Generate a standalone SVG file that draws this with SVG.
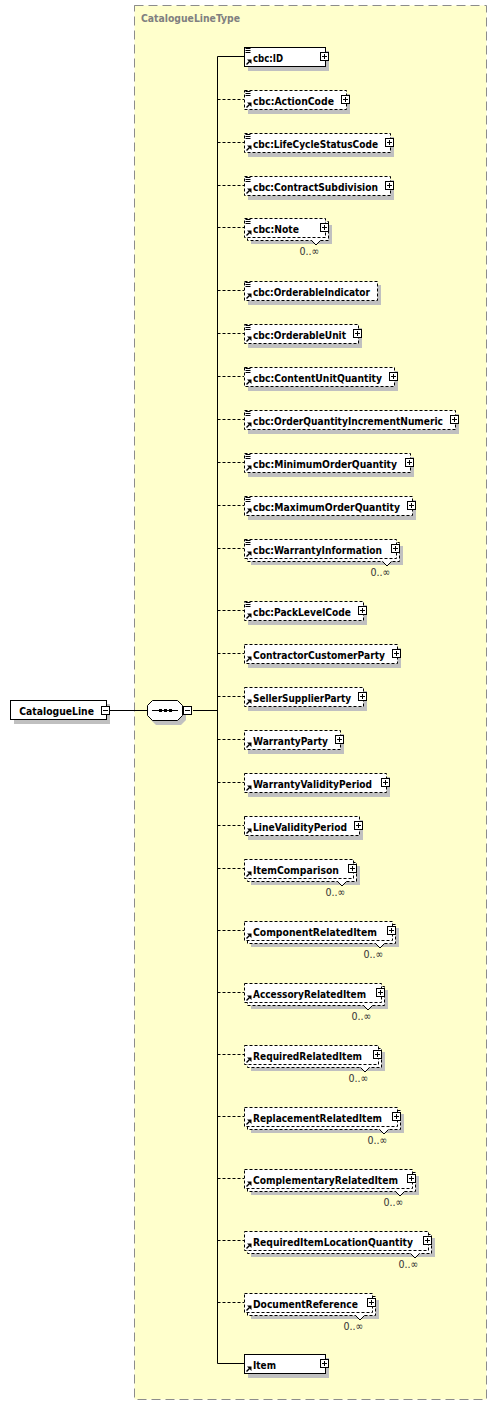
<svg xmlns="http://www.w3.org/2000/svg" xmlns:xlink="http://www.w3.org/1999/xlink" width="497" height="1406" viewBox="0 0 497 1406">
<style>
.bg{fill:#ffffcc;stroke:#8c8c8c;stroke-width:1;stroke-dasharray:9,5}
.hdr{font-family:"DejaVu Sans Condensed","DejaVu Sans",sans-serif;font-stretch:condensed;font-weight:bold;font-size:11px;fill:#808080}
.sh{fill:#c0c0c0}
.box{fill:#fff;stroke:#000;stroke-width:1}
.opt{stroke-dasharray:3,2}
.lbl{font-family:"DejaVu Sans Condensed","DejaVu Sans",sans-serif;font-stretch:condensed;font-weight:bold;font-size:11px;fill:#000}
.occ{font-family:"DejaVu Sans Condensed","DejaVu Sans",sans-serif;font-stretch:condensed;font-size:11px;fill:#333;text-anchor:end}
.ln{fill:none;stroke:#000;stroke-width:1}
.dl{fill:none;stroke:#000;stroke-width:1;stroke-dasharray:3,2}
</style>
<defs>
<g id="lines"><path d="M245.5,1.5h5M245.5,3.5h5M245.5,5.5h5" stroke="#000" stroke-width="1" fill="none"/></g>
<g id="arrow"><path d="M246.5,17.5L249.5,14.5" stroke="#000" stroke-width="1.5" fill="none"/><polygon points="251.5,12.5 251.5,17 247,12.5" fill="#000"/></g>
<g id="plus"><rect x="-4" y="-4" width="8" height="8" fill="#fff" stroke="#000" stroke-width="1"/><path d="M0,-2.5v5M-2.5,0h5" stroke="#000" stroke-width="1"/></g>
<g id="minus"><rect x="-4" y="-4" width="8" height="8" fill="#fff" stroke="#000" stroke-width="1"/><path d="M-2.5,0h5" stroke="#000" stroke-width="1"/></g>
</defs>

<g id="type-box">
<rect class="bg" x="134.5" y="5.5" width="352" height="1394"/>
<text class="hdr" x="141" y="21.5" textLength="99" lengthAdjust="spacingAndGlyphs">CatalogueLineType</text>
</g>

<g id="connectors">
<path class="ln" d="M110,710.5H148M193,710.5H217.5M217.5,56.5V1363.5M217.5,56.5H244M217.5,1363.5H244"/>
<path class="dl" d="M217.5,99.5H244M217.5,142.5H244M217.5,185.5H244M217.5,227.5H244M217.5,290.5H244M217.5,333.5H244M217.5,376.5H244M217.5,419.5H244M217.5,462.5H244M217.5,505.5H244M217.5,548.5H244M217.5,610.5H244M217.5,653.5H244M217.5,696.5H244M217.5,739.5H244M217.5,782.5H244M217.5,825.5H244M217.5,868.5H244M217.5,930.5H244M217.5,992.5H244M217.5,1054.5H244M217.5,1116.5H244M217.5,1178.5H244M217.5,1240.5H244M217.5,1302.5H244"/>
</g>

<g id="root-CatalogueLine">
<rect class="sh" x="14" y="704" width="96" height="20"/>
<rect class="box" x="10.5" y="700.5" width="96" height="19"/>
<text class="lbl" x="19.3" y="714.5" textLength="74.7" lengthAdjust="spacingAndGlyphs">CatalogueLine</text>
<use xlink:href="#minus" x="105.5" y="710.5"/>
</g>

<g id="sequence">
<polygon class="sh" points="156,704 181,704 186,709 186,720 181,725 156,725 151,720 151,709"/>
<polygon class="box" points="152.5,700.5 177.5,700.5 182.5,705.5 182.5,715.5 177.5,720.5 152.5,720.5 147.5,715.5 147.5,705.5"/>
<path d="M152,710.5H178" stroke="#000" stroke-width="1"/>
<rect x="159" y="709" width="3" height="3" fill="#000"/>
<rect x="164" y="709" width="3" height="3" fill="#000"/>
<rect x="169" y="709" width="3" height="3" fill="#000"/>
<use xlink:href="#minus" x="187.5" y="710.5"/>
</g>

<g id="n-ID" transform="translate(0,47)">
<rect class="sh" x="248" y="4" width="81" height="20"/>
<rect class="box" x="244.5" y="0.5" width="81" height="19"/>
<use xlink:href="#lines"/><use xlink:href="#arrow"/>
<text class="lbl" x="253" y="14.5" textLength="30" lengthAdjust="spacingAndGlyphs">cbc:ID</text>
<use xlink:href="#plus" x="324.5" y="9.5"/>
</g>

<g id="n-ActionCode" transform="translate(0,90)">
<rect class="sh" x="248" y="4" width="102" height="20"/>
<rect class="box opt" x="244.5" y="0.5" width="102" height="19"/>
<use xlink:href="#lines"/><use xlink:href="#arrow"/>
<text class="lbl" x="253" y="14.5" textLength="81" lengthAdjust="spacingAndGlyphs">cbc:ActionCode</text>
<use xlink:href="#plus" x="345.5" y="9.5"/>
</g>

<g id="n-LifeCycleStatusCode" transform="translate(0,133)">
<rect class="sh" x="248" y="4" width="146" height="20"/>
<rect class="box opt" x="244.5" y="0.5" width="146" height="19"/>
<use xlink:href="#lines"/><use xlink:href="#arrow"/>
<text class="lbl" x="253" y="14.5" textLength="125" lengthAdjust="spacingAndGlyphs">cbc:LifeCycleStatusCode</text>
<use xlink:href="#plus" x="389.5" y="9.5"/>
</g>

<g id="n-ContractSubdivision" transform="translate(0,176)">
<rect class="sh" x="248" y="4" width="146" height="20"/>
<rect class="box opt" x="244.5" y="0.5" width="146" height="19"/>
<use xlink:href="#lines"/><use xlink:href="#arrow"/>
<text class="lbl" x="253" y="14.5" textLength="125" lengthAdjust="spacingAndGlyphs">cbc:ContractSubdivision</text>
<use xlink:href="#plus" x="389.5" y="9.5"/>
</g>

<g id="n-Note" transform="translate(0,218)">
<rect class="sh" x="251" y="7" width="81" height="19"/>
<rect class="box opt" x="247.5" y="3.5" width="81" height="19"/>
<polygon points="311.5,22 316,26.5 320.5,22" fill="#fff"/>
<polyline class="ln" points="311.5,22.5 316,27 320.5,22.5"/>
<rect class="box opt" x="244.5" y="0.5" width="81" height="19"/>
<use xlink:href="#lines"/><use xlink:href="#arrow"/>
<text class="lbl" x="253" y="14.5" textLength="46" lengthAdjust="spacingAndGlyphs">cbc:Note</text>
<use xlink:href="#plus" x="324.5" y="9.5"/>
<text class="occ" x="319.5" y="37" textLength="20" lengthAdjust="spacingAndGlyphs">0..∞</text>
</g>

<g id="n-OrderableIndicator" transform="translate(0,281)">
<rect class="sh" x="248" y="4" width="133" height="20"/>
<rect class="box opt" x="244.5" y="0.5" width="133" height="19"/>
<use xlink:href="#lines"/><use xlink:href="#arrow"/>
<text class="lbl" x="253" y="14.5" textLength="117" lengthAdjust="spacingAndGlyphs">cbc:OrderableIndicator</text>
</g>

<g id="n-OrderableUnit" transform="translate(0,324)">
<rect class="sh" x="248" y="4" width="114" height="20"/>
<rect class="box opt" x="244.5" y="0.5" width="114" height="19"/>
<use xlink:href="#lines"/><use xlink:href="#arrow"/>
<text class="lbl" x="253" y="14.5" textLength="93" lengthAdjust="spacingAndGlyphs">cbc:OrderableUnit</text>
<use xlink:href="#plus" x="357.5" y="9.5"/>
</g>

<g id="n-ContentUnitQuantity" transform="translate(0,367)">
<rect class="sh" x="248" y="4" width="150" height="20"/>
<rect class="box opt" x="244.5" y="0.5" width="150" height="19"/>
<use xlink:href="#lines"/><use xlink:href="#arrow"/>
<text class="lbl" x="253" y="14.5" textLength="129" lengthAdjust="spacingAndGlyphs">cbc:ContentUnitQuantity</text>
<use xlink:href="#plus" x="393.5" y="9.5"/>
</g>

<g id="n-OrderQuantityIncrementNumeric" transform="translate(0,410)">
<rect class="sh" x="248" y="4" width="211" height="20"/>
<rect class="box opt" x="244.5" y="0.5" width="211" height="19"/>
<use xlink:href="#lines"/><use xlink:href="#arrow"/>
<text class="lbl" x="253" y="14.5" textLength="190" lengthAdjust="spacingAndGlyphs">cbc:OrderQuantityIncrementNumeric</text>
<use xlink:href="#plus" x="454.5" y="9.5"/>
</g>

<g id="n-MinimumOrderQuantity" transform="translate(0,453)">
<rect class="sh" x="248" y="4" width="166" height="20"/>
<rect class="box opt" x="244.5" y="0.5" width="166" height="19"/>
<use xlink:href="#lines"/><use xlink:href="#arrow"/>
<text class="lbl" x="253" y="14.5" textLength="144" lengthAdjust="spacingAndGlyphs">cbc:MinimumOrderQuantity</text>
<use xlink:href="#plus" x="409.5" y="9.5"/>
</g>

<g id="n-MaximumOrderQuantity" transform="translate(0,496)">
<rect class="sh" x="248" y="4" width="168" height="20"/>
<rect class="box opt" x="244.5" y="0.5" width="168" height="19"/>
<use xlink:href="#lines"/><use xlink:href="#arrow"/>
<text class="lbl" x="253" y="14.5" textLength="147" lengthAdjust="spacingAndGlyphs">cbc:MaximumOrderQuantity</text>
<use xlink:href="#plus" x="411.5" y="9.5"/>
</g>

<g id="n-WarrantyInformation" transform="translate(0,539)">
<rect class="sh" x="251" y="7" width="152" height="19"/>
<rect class="box opt" x="247.5" y="3.5" width="152" height="19"/>
<polygon points="382.5,22 387,26.5 391.5,22" fill="#fff"/>
<polyline class="ln" points="382.5,22.5 387,27 391.5,22.5"/>
<rect class="box opt" x="244.5" y="0.5" width="152" height="19"/>
<use xlink:href="#lines"/><use xlink:href="#arrow"/>
<text class="lbl" x="253" y="14.5" textLength="129" lengthAdjust="spacingAndGlyphs">cbc:WarrantyInformation</text>
<use xlink:href="#plus" x="395.5" y="9.5"/>
<text class="occ" x="390.5" y="37" textLength="20" lengthAdjust="spacingAndGlyphs">0..∞</text>
</g>

<g id="n-PackLevelCode" transform="translate(0,601)">
<rect class="sh" x="248" y="4" width="119" height="20"/>
<rect class="box opt" x="244.5" y="0.5" width="119" height="19"/>
<use xlink:href="#lines"/><use xlink:href="#arrow"/>
<text class="lbl" x="253" y="14.5" textLength="98" lengthAdjust="spacingAndGlyphs">cbc:PackLevelCode</text>
<use xlink:href="#plus" x="362.5" y="9.5"/>
</g>

<g id="n-ContractorCustomerParty" transform="translate(0,644)">
<rect class="sh" x="248" y="4" width="153" height="20"/>
<rect class="box opt" x="244.5" y="0.5" width="153" height="19"/>
<use xlink:href="#arrow"/>
<text class="lbl" x="253" y="14.5" textLength="132" lengthAdjust="spacingAndGlyphs">ContractorCustomerParty</text>
<use xlink:href="#plus" x="396.5" y="9.5"/>
</g>

<g id="n-SellerSupplierParty" transform="translate(0,687)">
<rect class="sh" x="248" y="4" width="119" height="20"/>
<rect class="box opt" x="244.5" y="0.5" width="119" height="19"/>
<use xlink:href="#arrow"/>
<text class="lbl" x="253" y="14.5" textLength="98" lengthAdjust="spacingAndGlyphs">SellerSupplierParty</text>
<use xlink:href="#plus" x="362.5" y="9.5"/>
</g>

<g id="n-WarrantyParty" transform="translate(0,730)">
<rect class="sh" x="248" y="4" width="96" height="20"/>
<rect class="box opt" x="244.5" y="0.5" width="96" height="19"/>
<use xlink:href="#arrow"/>
<text class="lbl" x="253" y="14.5" textLength="75" lengthAdjust="spacingAndGlyphs">WarrantyParty</text>
<use xlink:href="#plus" x="339.5" y="9.5"/>
</g>

<g id="n-WarrantyValidityPeriod" transform="translate(0,773)">
<rect class="sh" x="248" y="4" width="142" height="20"/>
<rect class="box opt" x="244.5" y="0.5" width="142" height="19"/>
<use xlink:href="#arrow"/>
<text class="lbl" x="253" y="14.5" textLength="119" lengthAdjust="spacingAndGlyphs">WarrantyValidityPeriod</text>
<use xlink:href="#plus" x="385.5" y="9.5"/>
</g>

<g id="n-LineValidityPeriod" transform="translate(0,816)">
<rect class="sh" x="248" y="4" width="115" height="20"/>
<rect class="box opt" x="244.5" y="0.5" width="115" height="19"/>
<use xlink:href="#arrow"/>
<text class="lbl" x="253" y="14.5" textLength="94" lengthAdjust="spacingAndGlyphs">LineValidityPeriod</text>
<use xlink:href="#plus" x="358.5" y="9.5"/>
</g>

<g id="n-ItemComparison" transform="translate(0,859)">
<rect class="sh" x="251" y="7" width="109" height="19"/>
<rect class="box opt" x="247.5" y="3.5" width="109" height="19"/>
<polygon points="337.5,22 342,26.5 346.5,22" fill="#fff"/>
<polyline class="ln" points="337.5,22.5 342,27 346.5,22.5"/>
<rect class="box opt" x="244.5" y="0.5" width="109" height="19"/>
<use xlink:href="#arrow"/>
<text class="lbl" x="253" y="14.5" textLength="86" lengthAdjust="spacingAndGlyphs">ItemComparison</text>
<use xlink:href="#plus" x="352.5" y="9.5"/>
<text class="occ" x="345.5" y="37" textLength="20" lengthAdjust="spacingAndGlyphs">0..∞</text>
</g>

<g id="n-ComponentRelatedItem" transform="translate(0,921)">
<rect class="sh" x="251" y="7" width="148" height="19"/>
<rect class="box opt" x="247.5" y="3.5" width="148" height="19"/>
<polygon points="375.5,22 380,26.5 384.5,22" fill="#fff"/>
<polyline class="ln" points="375.5,22.5 380,27 384.5,22.5"/>
<rect class="box opt" x="244.5" y="0.5" width="148" height="19"/>
<use xlink:href="#arrow"/>
<text class="lbl" x="253" y="14.5" textLength="124" lengthAdjust="spacingAndGlyphs">ComponentRelatedItem</text>
<use xlink:href="#plus" x="391.5" y="9.5"/>
<text class="occ" x="383.5" y="37" textLength="20" lengthAdjust="spacingAndGlyphs">0..∞</text>
</g>

<g id="n-AccessoryRelatedItem" transform="translate(0,983)">
<rect class="sh" x="251" y="7" width="137" height="19"/>
<rect class="box opt" x="247.5" y="3.5" width="137" height="19"/>
<polygon points="363.5,22 368,26.5 372.5,22" fill="#fff"/>
<polyline class="ln" points="363.5,22.5 368,27 372.5,22.5"/>
<rect class="box opt" x="244.5" y="0.5" width="137" height="19"/>
<use xlink:href="#arrow"/>
<text class="lbl" x="253" y="14.5" textLength="113" lengthAdjust="spacingAndGlyphs">AccessoryRelatedItem</text>
<use xlink:href="#plus" x="380.5" y="9.5"/>
<text class="occ" x="371.5" y="37" textLength="20" lengthAdjust="spacingAndGlyphs">0..∞</text>
</g>

<g id="n-RequiredRelatedItem" transform="translate(0,1045)">
<rect class="sh" x="251" y="7" width="134" height="19"/>
<rect class="box opt" x="247.5" y="3.5" width="134" height="19"/>
<polygon points="360.5,22 365,26.5 369.5,22" fill="#fff"/>
<polyline class="ln" points="360.5,22.5 365,27 369.5,22.5"/>
<rect class="box opt" x="244.5" y="0.5" width="134" height="19"/>
<use xlink:href="#arrow"/>
<text class="lbl" x="253" y="14.5" textLength="109" lengthAdjust="spacingAndGlyphs">RequiredRelatedItem</text>
<use xlink:href="#plus" x="377.5" y="9.5"/>
<text class="occ" x="368.5" y="37" textLength="20" lengthAdjust="spacingAndGlyphs">0..∞</text>
</g>

<g id="n-ReplacementRelatedItem" transform="translate(0,1107)">
<rect class="sh" x="251" y="7" width="153" height="19"/>
<rect class="box opt" x="247.5" y="3.5" width="153" height="19"/>
<polygon points="379.5,22 384,26.5 388.5,22" fill="#fff"/>
<polyline class="ln" points="379.5,22.5 384,27 388.5,22.5"/>
<rect class="box opt" x="244.5" y="0.5" width="153" height="19"/>
<use xlink:href="#arrow"/>
<text class="lbl" x="253" y="14.5" textLength="129" lengthAdjust="spacingAndGlyphs">ReplacementRelatedItem</text>
<use xlink:href="#plus" x="396.5" y="9.5"/>
<text class="occ" x="387.5" y="37" textLength="20" lengthAdjust="spacingAndGlyphs">0..∞</text>
</g>

<g id="n-ComplementaryRelatedItem" transform="translate(0,1169)">
<rect class="sh" x="251" y="7" width="168" height="19"/>
<rect class="box opt" x="247.5" y="3.5" width="168" height="19"/>
<polygon points="395.5,22 400,26.5 404.5,22" fill="#fff"/>
<polyline class="ln" points="395.5,22.5 400,27 404.5,22.5"/>
<rect class="box opt" x="244.5" y="0.5" width="168" height="19"/>
<use xlink:href="#arrow"/>
<text class="lbl" x="253" y="14.5" textLength="145" lengthAdjust="spacingAndGlyphs">ComplementaryRelatedItem</text>
<use xlink:href="#plus" x="411.5" y="9.5"/>
<text class="occ" x="403.5" y="37" textLength="20" lengthAdjust="spacingAndGlyphs">0..∞</text>
</g>

<g id="n-RequiredItemLocationQuantity" transform="translate(0,1231)">
<rect class="sh" x="251" y="7" width="184" height="19"/>
<rect class="box opt" x="247.5" y="3.5" width="184" height="19"/>
<polygon points="410.5,22 415,26.5 419.5,22" fill="#fff"/>
<polyline class="ln" points="410.5,22.5 415,27 419.5,22.5"/>
<rect class="box opt" x="244.5" y="0.5" width="184" height="19"/>
<use xlink:href="#arrow"/>
<text class="lbl" x="253" y="14.5" textLength="160" lengthAdjust="spacingAndGlyphs">RequiredItemLocationQuantity</text>
<use xlink:href="#plus" x="427.5" y="9.5"/>
<text class="occ" x="418.5" y="37" textLength="20" lengthAdjust="spacingAndGlyphs">0..∞</text>
</g>

<g id="n-DocumentReference" transform="translate(0,1293)">
<rect class="sh" x="251" y="7" width="128" height="19"/>
<rect class="box opt" x="247.5" y="3.5" width="128" height="19"/>
<polygon points="355.5,22 360,26.5 364.5,22" fill="#fff"/>
<polyline class="ln" points="355.5,22.5 360,27 364.5,22.5"/>
<rect class="box opt" x="244.5" y="0.5" width="128" height="19"/>
<use xlink:href="#arrow"/>
<text class="lbl" x="253" y="14.5" textLength="105" lengthAdjust="spacingAndGlyphs">DocumentReference</text>
<use xlink:href="#plus" x="371.5" y="9.5"/>
<text class="occ" x="363.5" y="37" textLength="20" lengthAdjust="spacingAndGlyphs">0..∞</text>
</g>

<g id="n-Item" transform="translate(0,1354)">
<rect class="sh" x="248" y="4" width="81" height="20"/>
<rect class="box" x="244.5" y="0.5" width="81" height="19"/>
<use xlink:href="#arrow"/>
<text class="lbl" x="253" y="14.5" textLength="23" lengthAdjust="spacingAndGlyphs">Item</text>
<use xlink:href="#plus" x="324.5" y="9.5"/>
</g>
</svg>
